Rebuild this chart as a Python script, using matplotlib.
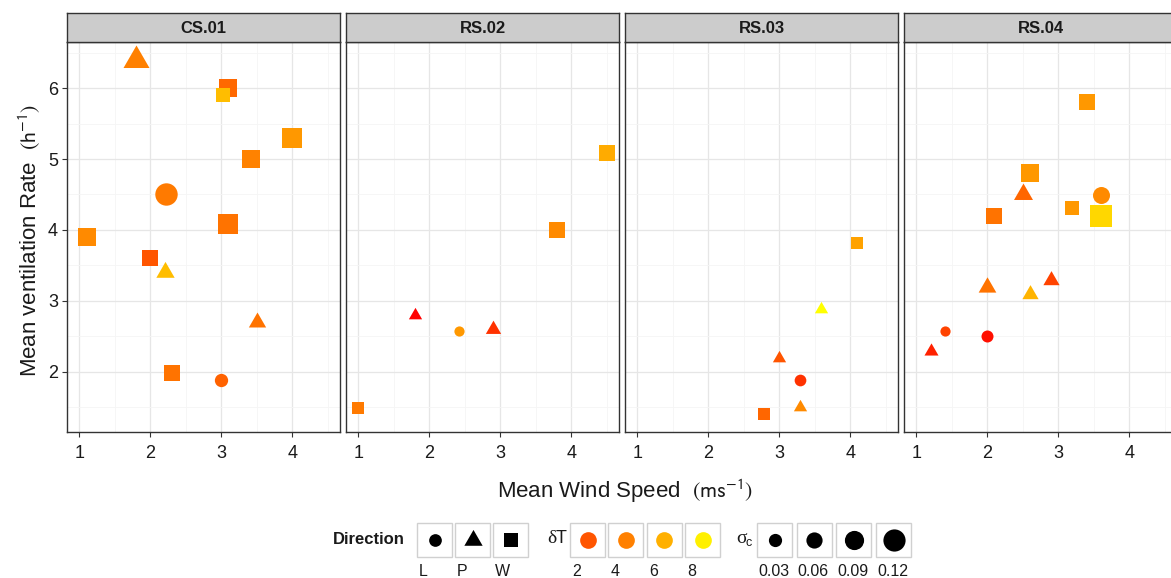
import matplotlib
matplotlib.use("Agg")
import matplotlib.pyplot as plt
import numpy as np
from matplotlib.colors import LinearSegmentedColormap, Normalize
from matplotlib.patches import Rectangle

plt.rcParams['font.family'] = ['Liberation Sans', 'DejaVu Sans']
plt.rcParams['mathtext.fontset'] = 'custom'
plt.rcParams['mathtext.rm'] = 'Liberation Sans'
plt.rcParams['mathtext.it'] = 'Liberation Sans:italic'

# ---- data (one list per site) ----
sites = ['CS.01', 'RS.02', 'RS.03', 'RS.04']

cs01_wind = [1.8, 3.1, 3.02, 4.0, 3.42, 2.22, 3.1, 1.1, 2.0, 2.2, 3.5, 2.3, 3.0]
cs01_vent = [6.4, 6.0, 5.9, 5.3, 5.0, 4.5, 4.09, 3.9, 3.6, 3.4, 2.7, 1.98, 1.89]
cs01_dir = ['P', 'W', 'W', 'W', 'W', 'L', 'W', 'W', 'W', 'P', 'P', 'W', 'L']
cs01_dT = [4.0, 2.9, 6.4, 5.0, 4.1, 3.7, 3.4, 4.4, 2.0, 6.4, 3.4, 3.4, 2.6]
cs01_sig = [0.098, 0.076, 0.038, 0.088, 0.069, 0.122, 0.079, 0.060, 0.050, 0.039, 0.031, 0.041, 0.031]

rs02_wind = [4.5, 3.8, 1.8, 2.42, 2.9, 1.0]
rs02_vent = [5.09, 4.0, 2.8, 2.58, 2.6, 1.49]
rs02_dir = ['W', 'W', 'P', 'L', 'P', 'W']
rs02_dT = [5.8, 4.4, 1.0, 5.0, 1.6, 3.7]
rs02_sig = [0.041, 0.041, 0.0, 0.0, 0.016, 0.012]

rs03_wind = [4.09, 3.59, 3.0, 3.29, 3.29, 2.79]
rs03_vent = [3.82, 2.88, 2.19, 1.89, 1.5, 1.4]
rs03_dir = ['W', 'P', 'P', 'L', 'P', 'W']
rs03_dT = [5.4, 8.5, 2.0, 1.6, 4.4, 2.8]
rs03_sig = [0.012, 0.0, 0.0, 0.015, 0.0, 0.012]

rs04_wind = [3.41, 2.6, 2.5, 3.6, 2.1, 3.19, 3.6, 2.0, 2.9, 2.6, 1.41, 2.0, 1.2]
rs04_vent = [5.8, 4.8, 4.5, 4.49, 4.2, 4.31, 4.2, 3.2, 3.3, 3.1, 2.58, 2.5, 2.29]
rs04_dir = ['W', 'W', 'P', 'L', 'W', 'W', 'W', 'P', 'P', 'P', 'L', 'L', 'P']
rs04_dT = [5.0, 5.0, 2.8, 4.4, 3.4, 5.0, 7.2, 3.4, 1.8, 6.1, 1.8, 1.2, 1.4]
rs04_sig = [0.050, 0.060, 0.044, 0.068, 0.041, 0.022, 0.108, 0.034, 0.023, 0.023, 0.0, 0.018, 0.006]

site_data = [
    (cs01_wind, cs01_vent, cs01_dir, cs01_dT, cs01_sig),
    (rs02_wind, rs02_vent, rs02_dir, rs02_dT, rs02_sig),
    (rs03_wind, rs03_vent, rs03_dir, rs03_dT, rs03_sig),
    (rs04_wind, rs04_vent, rs04_dir, rs04_dT, rs04_sig),
]

dir_labels = ['L', 'P', 'W']
dT_breaks = [2, 4, 6, 8]
sig_breaks = [0.03, 0.06, 0.09, 0.12]

# ---- styling helpers ----
W_PX, H_PX = 1171, 578
DPI = 100
PT = 72.0 / DPI  # points per pixel

tri = [(0, 1), (-0.866, -0.5), (0.866, -0.5)]
marker_of = {'L': 'o', 'P': tri, 'W': 's'}
ratio_of = {'L': 1.0, 'P': 1.3 / 0.866, 'W': 1.05}

cmap = LinearSegmentedColormap.from_list(
    'redyellow',
    [(0.0, '#FF0000'), (1 / 7.5, '#FF5500'), (3 / 7.5, '#FF8000'),
     (5 / 7.5, '#FFB000'), (7 / 7.5, '#FFF000'), (1.0, '#FFFF00')])
norm = Normalize(vmin=1.0, vmax=8.5)


def diam_px(sig):
    return 10.2 + 100.0 * sig


def area(d_px):
    return (d_px * PT) ** 2


def fx(px):
    return px / W_PX


def fy(py):
    return 1 - py / H_PX


fig = plt.figure(figsize=(W_PX / DPI, H_PX / DPI), dpi=DPI, facecolor='white')

panel_top, panel_bot = 42, 432
strip_top = 13
panel_w = 273
text_col = '#1a1a1a'
border_col = '#333333'

for i, site in enumerate(sites):
    left = 67 + i * 279
    ax = fig.add_axes([fx(left), fy(panel_bot), panel_w / W_PX, (panel_bot - panel_top) / H_PX])
    wind, vent, dirs, dT, sig = site_data[i]
    for x, y, d, t, s in zip(wind, vent, dirs, dT, sig):
        ax.scatter([x], [y], marker=marker_of[d], s=area(diam_px(s) * ratio_of[d]),
                   color=cmap(norm(t)), linewidths=0, zorder=3)
    ax.set_xlim(0.825, 4.675)
    ax.set_ylim(1.15, 6.65)
    ax.set_xticks([1, 2, 3, 4])
    ax.set_yticks([2, 3, 4, 5, 6])
    ax.set_xticks(np.arange(1.5, 4.6, 1.0), minor=True)
    ax.set_yticks(np.arange(1.5, 6.6, 1.0), minor=True)
    ax.grid(which='major', color='#E6E6E6', linewidth=0.9, zorder=0)
    ax.grid(which='minor', color='#F5F5F5', linewidth=0.6, zorder=0)
    ax.set_axisbelow(True)
    for sp in ax.spines.values():
        sp.set_color(border_col)
        sp.set_linewidth(1.0)
    ax.tick_params(which='minor', length=0)
    ax.tick_params(which='major', direction='out', length=3.5, width=0.8,
                   color=border_col, labelsize=13, labelcolor=text_col, pad=3)
    ax.tick_params(axis='x', which='major', pad=6)
    if i > 0:
        ax.tick_params(axis='y', which='major', length=0, labelleft=False)

    # facet strip
    sax = fig.add_axes([fx(left), fy(panel_top), panel_w / W_PX, (panel_top - strip_top) / H_PX])
    sax.set_facecolor('#CCCCCC')
    sax.set_xticks([])
    sax.set_yticks([])
    for sp in sax.spines.values():
        sp.set_color(border_col)
        sp.set_linewidth(1.0)
    sax.text(0.5, 0.47, site, transform=sax.transAxes, ha='center', va='center',
             fontsize=12, fontweight='bold', color=text_col)

# axis titles
fig.text(fx(625), fy(491), r'Mean Wind Speed  $\left(\mathrm{ms}^{-1}\right)$',
         ha='center', va='center', fontsize=16, color=text_col, math_fontfamily='stixsans')
fig.text(fx(30), fy(240), r'Mean ventilation Rate  $\left(\mathrm{h}^{-1}\right)$',
         ha='center', va='center', rotation=90, fontsize=16, color=text_col,
         math_fontfamily='stixsans')

# ---- legend drawn in pixel space ----
lax = fig.add_axes([0, 0, 1, 1], facecolor='none')
lax.set_xlim(0, W_PX)
lax.set_ylim(H_PX, 0)
lax.axis('off')

key_w, key_h, key_top = 35, 34, 522.5
label_y = 572
key_cy = key_top + key_h / 2


def draw_key(x0):
    lax.add_patch(Rectangle((x0, key_top), key_w, key_h, facecolor='white',
                            edgecolor='#D0D0D0', linewidth=1.0))


lax.text(333, key_cy, 'Direction', ha='left', va='center', fontsize=12,
         fontweight='bold', color=text_col)
dir_sizes = {'L': 12.7, 'P': 18.3 / 0.866, 'W': 13.3}
for j, lab in enumerate(dir_labels):
    x0 = 417 + j * 38
    draw_key(x0)
    lax.scatter([x0 + key_w / 2], [key_cy], marker=marker_of[lab], s=area(dir_sizes[lab]),
                color='black', linewidths=0)
    lax.text(x0 + 2, label_y, lab, ha='left', va='center', fontsize=11.5, color=text_col)

lax.text(547, key_cy - 1, 'δ', ha='left', va='center', fontsize=14,
         family=['Liberation Serif', 'DejaVu Serif'], color=text_col)
lax.text(556, key_cy - 1, 'T', ha='left', va='center', fontsize=13, color=text_col)
for j, b in enumerate(dT_breaks):
    x0 = 570 + j * 38.4
    draw_key(x0)
    lax.scatter([x0 + key_w / 2], [key_cy], marker='o', s=area(16.7),
                color=cmap(norm(b)), linewidths=0)
    lax.text(x0 + 2, label_y, str(b), ha='left', va='center', fontsize=11.5, color=text_col)

lax.text(736, key_cy - 1, 'σ', ha='left', va='center', fontsize=14,
         family=['Liberation Serif', 'DejaVu Serif'], color=text_col)
lax.text(746, key_cy + 3, 'c', ha='left', va='center', fontsize=9, color=text_col)
for j, b in enumerate(sig_breaks):
    x0 = 757 + j * 39.7
    draw_key(x0)
    lax.scatter([x0 + key_w / 2], [key_cy], marker='o', s=area(diam_px(b)),
                color='black', linewidths=0)
    lax.text(x0 + 1, label_y, '%.2f' % b, ha='left', va='center', fontsize=11.5, color=text_col)

fig.savefig('out.png', dpi=DPI)
